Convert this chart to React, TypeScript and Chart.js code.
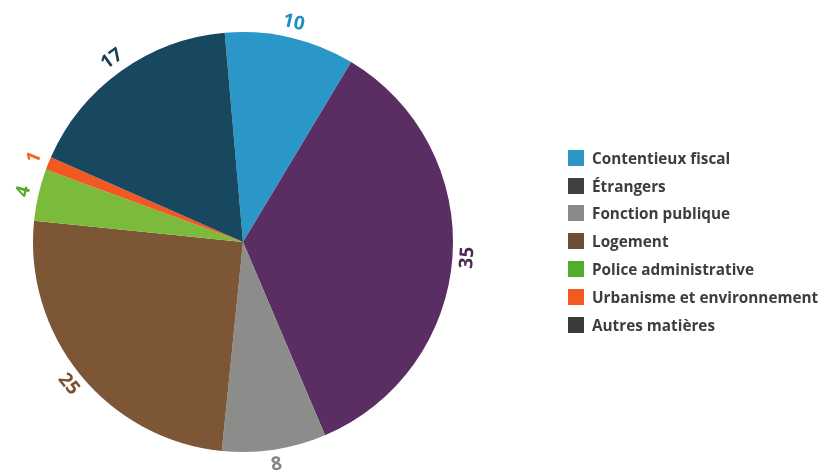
import React, { useEffect, useRef } from "react";
import { Chart, registerables } from "chart.js";

Chart.register(...registerables);

const categories = [
  "Contentieux fiscal",
  "Étrangers",
  "Fonction publique",
  "Logement",
  "Police administrative",
  "Urbanisme et environnement",
  "Autres matières",
];
const values = [10, 35, 8, 25, 4, 1, 17];
const sliceColors = ["#2b97c9", "#5a2e62", "#8c8c8a", "#7d5635", "#7cba3c", "#f05a22", "#184760"];
const labelColors = ["#1f8fc2", "#4b2853", "#858585", "#7a5230", "#5aa82a", "#f26522", "#163f55"];
const legendColors = ["#2b97c9", "#3f3f44", "#8a8a88", "#6e4e35", "#4caf2d", "#f15a22", "#3a3a3e"];

const outsideLabels = {
  id: "outsideLabels",
  afterDatasetsDraw(chart: any) {
    const ctx = chart.ctx;
    const meta = chart.getDatasetMeta(0);
    ctx.save();
    ctx.font = "bold 19px 'Open Sans'";
    ctx.textAlign = "center";
    ctx.textBaseline = "middle";
    meta.data.forEach((arc: any, i: number) => {
      const p = arc.getProps(["x", "y", "startAngle", "endAngle", "outerRadius"], true);
      const mid = (p.startAngle + p.endAngle) / 2;
      const r = p.outerRadius + 15;
      const x = p.x + Math.cos(mid) * r;
      const y = p.y + Math.sin(mid) * r;
      let rot = mid + Math.PI / 2;
      while (rot > Math.PI / 2) rot -= Math.PI;
      while (rot <= -Math.PI / 2) rot += Math.PI;
      ctx.save();
      ctx.translate(x, y);
      ctx.rotate(rot);
      ctx.fillStyle = labelColors[i];
      ctx.fillText(String(values[i]), 0, 0);
      ctx.restore();
    });
    ctx.restore();
  },
};

export default function App() {
  const ref = useRef<HTMLCanvasElement | null>(null);
  useEffect(() => {
    if (!ref.current) return;
    const chart = new Chart(ref.current, {
      type: "pie",
      data: {
        labels: categories,
        datasets: [
          {
            data: values,
            backgroundColor: sliceColors,
            borderWidth: 0,
          },
        ],
      },
      options: {
        responsive: false,
        animation: false,
        rotation: -5,
        layout: { padding: { left: 33, top: 32, right: 370, bottom: 20 } },
        plugins: { legend: { display: false }, tooltip: { enabled: false } },
      },
      plugins: [outsideLabels],
    });
    return () => chart.destroy();
  }, []);

  return (
    <div style={{ position: "fixed", left: 0, top: 0, width: 823, height: 472, background: "#fff" }}>
      <canvas ref={ref} width={823} height={472} style={{ position: "absolute", left: 0, top: 0 }} />
      <div style={{ position: "absolute", left: 568, top: 144 }}>
        {categories.map((c, i) => (
          <div key={c} style={{ display: "flex", alignItems: "center", height: 27.8 }}>
            <span style={{ display: "inline-block", width: 16, height: 16, background: legendColors[i], marginRight: 8 }} />
            <span style={{ fontFamily: "'Open Sans'", fontWeight: 700, fontSize: 15.3, color: "#3d3d3f", whiteSpace: "nowrap" }}>{c}</span>
          </div>
        ))}
      </div>
    </div>
  );
}
